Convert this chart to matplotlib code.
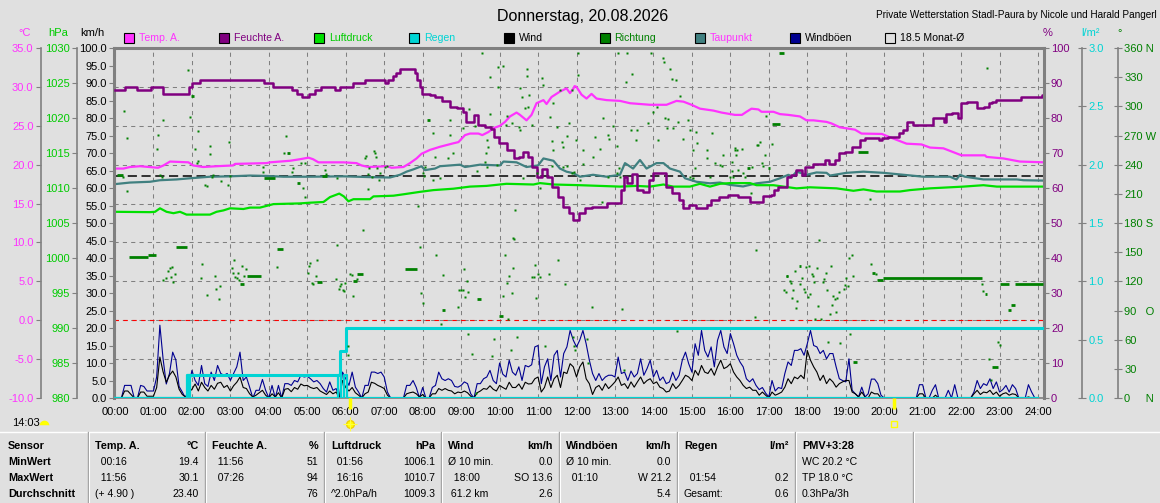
import numpy as np
import matplotlib
matplotlib.use("Agg")
import matplotlib.pyplot as plt
import matplotlib.ticker as mticker
import matplotlib.transforms as mtransforms
from matplotlib.lines import Line2D
from matplotlib.patches import Rectangle

plt.rcParams['font.family'] = ['Liberation Sans', 'DejaVu Sans']

# ---------------- data ----------------
title = "Donnerstag, 20.08.2026"
station = "Private Wetterstation Stadl-Paura by Nicole und Harald Pangerl"
hour_labels = [f"{h:02d}:00" for h in range(25)]
dir_labels = ['0     N', '30', '60', '90   O', '120', '150', '180 S', '210',
              '240', '270 W', '300', '330', '360 N']
month_avg = 18.5

temp_t = [0, 0.22, 0.39, 0.65, 1.12, 1.26, 1.43, 1.91, 2.03, 2.29, 2.64, 3.07, 3.12, 3.94, 4.03,
          4.55, 4.81, 5.03, 5.15, 5.29, 5.94, 6.28, 6.41, 6.59, 7.07, 7.19, 7.5, 7.67, 7.84, 7.97,
          8.19, 8.45, 8.8, 8.93, 9.1, 9.23, 9.45, 9.55, 9.71, 9.84, 10.01, 10.14, 10.27, 10.44,
          10.53, 10.7, 10.83, 10.96, 11.14, 11.22, 11.35, 11.57, 11.74, 11.83, 11.92, 11.95, 12.0,
          12.13, 12.26, 12.39, 12.52, 12.78, 13.13, 13.39, 13.91, 14.34, 14.6, 14.78, 14.99, 15.21,
          15.56, 15.77, 16.12, 16.3, 16.42, 16.55, 16.73, 16.81, 17.12, 17.29, 17.51, 17.81, 17.98,
          18.16, 18.5, 18.63, 18.85, 19.24, 19.41, 19.94, 20.11, 20.58, 20.97, 21.19, 21.54, 22.01,
          22.62, 22.66, 23.1, 23.53, 24.16]
temp_v = [19.5, 19.5, 19.7, 19.8, 19.6, 19.9, 20.4, 20.3, 19.9, 19.7, 19.8, 19.9, 20.1, 20.2, 20.3,
          20.5, 20.7, 20.9, 20.7, 20.3, 20.3, 20.2, 19.9, 19.7, 19.8, 19.6, 19.7, 20.2, 20.8, 21.4,
          21.9, 22.3, 22.75, 22.9, 23.8, 24.0, 24.0, 23.8, 24.2, 24.7, 25.0, 25.5, 26.2, 26.7,
          26.4, 25.7, 26.4, 27.9, 28.3, 27.8, 28.7, 29.4, 29.8, 29.2, 29.8, 30.1, 30.0,
          29.0, 28.5, 29.1, 28.5, 28.3, 28.2, 27.9, 27.7, 27.7, 28.2, 28.1, 27.7, 27.2,
          26.95, 26.7, 26.4, 26.4, 26.8, 27.2, 27.1, 26.8, 26.8, 26.5, 26.4, 26.2, 25.7,
          25.7, 25.5, 25.3, 24.8, 24.5, 24.0, 23.95, 23.6, 22.7, 22.6, 22.2, 22.1, 21.2,
          21.2, 21.0, 20.8, 20.4, 20.3]

hum_t = [0, 0.26, 0.56, 0.93, 1.24, 1.92, 2.0, 2.2, 3.87, 4.1, 4.6, 4.72, 4.85, 5.05, 5.2, 5.35,
         5.72, 5.85, 6.2, 6.5, 7.02, 7.1, 7.22, 7.3, 7.4, 7.8, 7.86, 7.92, 7.98, 8.19, 8.32, 8.5,
         8.71, 8.88, 9.05, 9.12, 9.34, 9.45, 9.62, 9.78, 9.86, 9.98, 10.1, 10.2, 10.38, 10.5,
         10.62, 10.75, 10.85, 10.98, 11.1, 11.22, 11.36, 11.52, 11.66, 11.8, 11.92, 12.06, 12.22,
         12.4, 12.8, 13.15, 13.24, 13.32, 13.44, 13.57, 13.74, 13.88, 14.0, 14.32, 14.48, 14.66,
         14.76, 14.92, 15.1, 15.4, 15.5, 15.7, 15.95, 16.2, 16.52, 16.84, 17.05, 17.14, 17.23,
         17.48, 17.57, 17.7, 17.87, 17.95, 18.15, 18.47, 18.57, 18.72, 18.82, 18.98, 19.15, 19.38,
         19.5, 19.87, 19.95, 20.1, 20.38, 20.48, 20.6, 20.75, 21.28, 21.55, 21.6, 21.75, 21.92,
         22.0, 22.15, 22.4, 22.6, 22.72, 22.8, 22.9, 23.55, 24.1, 24.16]
hum_v = [88, 89, 88, 89, 87, 89, 90, 91, 90, 89, 88, 87, 86, 87, 88, 89,
         88, 89, 90, 91, 90, 91, 92, 93, 94, 93, 91, 89, 87, 86.5, 86, 85,
         83.2, 82.8, 81.8, 79, 81, 78, 77.5, 77, 74.7, 72.8, 73, 70.9, 68.5, 69,
         70.4, 69, 66.1, 63.2, 65.4, 63.2, 60.4, 57.5, 54.7, 52.8, 51, 52.8, 54.3,
         54.7, 55.6, 59.4, 63.2, 61.3, 64, 59.4, 58.9, 62.3, 64.2, 60.4, 58.5, 56.6,
         54.3, 55.1, 54.3, 55.1, 56.6, 57.5, 57.9, 57.5, 56.1, 57.7, 58, 59.4, 60.3,
         63.2, 63.6, 65.1, 63.6, 66.1, 67, 68, 67, 68, 69.9, 70.4, 71.8, 73.7,
         74.2, 73.7, 74.2, 74.7, 75.6, 76.6, 79, 78, 79.9, 79, 81.1, 81.3, 79.9,
         84.2, 84.6, 82.8, 83.2, 84.2, 84.6, 85.1, 86.1, 86.6, 87]

pres_t = [0, 0.91, 1.04, 1.17, 1.34, 1.52, 1.69, 1.86, 2.47, 2.64, 2.82, 2.99, 3.34, 3.51, 3.77,
          4.12, 4.81, 5.07, 5.42, 5.59, 5.83, 5.95, 6.07, 6.2, 6.63, 6.72, 7.24, 7.5, 7.93, 8.28,
          8.8, 9.23, 9.66, 10.18, 10.88, 11.05, 11.4, 12.09, 13.13, 13.56, 13.91, 14.26, 14.51,
          14.95, 15.21, 15.47, 15.73, 15.99, 16.51, 16.68, 17.12, 17.38, 17.72, 18.07, 18.76,
          19.2, 19.46, 19.8, 20.41, 20.67, 21.19, 22.06, 22.58, 22.93, 24.16]
pres_v = [1006.6, 1006.55, 1006.6, 1007.1, 1006.6, 1006.4, 1006.6, 1006.2, 1006.2, 1006.6, 1006.8,
          1007.1, 1007.0, 1007.2, 1007.2, 1007.7, 1007.8, 1007.9, 1008.0, 1008.7, 1009.2, 1008.8,
          1008.1, 1008.4, 1008.4, 1008.8, 1008.9, 1009.1, 1009.45, 1009.7, 1009.9, 1010.2, 1010.3,
          1010.6, 1010.5, 1010.7, 1010.5, 1010.4, 1010.2, 1010.3, 1010.2, 1010.5, 1010.2, 1010.2,
          1010.6, 1010.2, 1010.6, 1010.7, 1010.7, 1010.4, 1010.4, 1010.2, 1009.95, 1010.1, 1009.95,
          1009.6, 1009.8, 1009.5, 1009.5, 1009.7, 1009.95, 1010.2, 1010.4, 1010.2, 1010.2]

dew_t = [0, 0.39, 0.91, 1.17, 1.6, 1.95, 2.47, 2.99, 3.51, 3.94, 4.38, 5.07, 5.94, 6.63, 7.15,
         7.41, 7.58, 7.76, 7.97, 8.06, 8.32, 8.45, 8.71, 8.97, 9.1, 9.49, 10.01, 10.1, 10.44,
         10.7, 11.0, 11.14, 11.4, 11.57, 11.74, 11.92, 12.09, 12.43, 12.78, 13.13, 13.26, 13.47,
         13.65, 13.82, 14.08, 14.26, 14.43, 14.69, 14.82, 15.12, 15.47, 15.73, 15.99, 16.33,
         16.68, 17.03, 17.29, 17.51, 17.6, 17.72, 17.98, 18.24, 18.5, 18.59, 19.02, 19.46, 19.98,
         20.5, 21.02, 21.71, 21.88, 21.97, 22.1, 22.58, 23.45, 23.62, 24.16]
dew_v = [17.5, 17.7, 17.8, 18.0, 18.1, 18.25, 18.45, 18.5, 18.6, 18.55, 18.45, 18.45, 18.5, 18.4,
         18.35, 18.7, 19.1, 19.4, 19.8, 19.3, 19.5, 19.8, 19.9, 20.0, 19.7, 20.0, 19.9, 20.4, 20.3,
         19.7, 19.9, 20.8, 20.5, 19.5, 19.1, 18.9, 18.45, 18.7, 18.45, 18.7, 20.2, 19.5,
         20.6, 19.5, 20.2, 20.2, 19.5, 19.1, 18.25, 17.8, 17.6, 17.7, 17.4, 17.2,
         17.6, 17.8, 18.25, 18.7, 18.45, 19.1, 18.7, 19.0, 18.95, 18.6, 18.95, 19.1, 18.95,
         18.7, 18.45, 18.45, 18.1, 18.7, 18.45, 18.1, 18.1, 18.0, 17.95]

# wind and gusts, one value every 5 minutes (one row = one hour)
gust_kmh = [
    0, 0, 0, 3.6, 3.6, 3.6, 0, 0, 3.6, 3.3, 2, 2,
    2, 6, 20.8, 11.2, 4, 7, 13.1, 10.8, 3.3, 1.7, 0, 3.1,
    7.9, 5, 3.6, 9.3, 4.1, 3.3, 7.4, 5, 9.3, 7, 6.5, 7,
    5, 7, 8.9, 13.1, 5, 6, 3.1, 0, 2.2, 2.2, 5.3, 2.2,
    0, 3.6, 0, 3.6, 0, 4.1, 4.1, 3.6, 5, 4.6, 6.5, 6,
    6.2, 5.5, 4.6, 5, 4.1, 2.7, 1.7, 4.6, 2.2, 2.7, 0, 7.4,
    5.5, 3.6, 7.4, 3.1, 1.7, 0, 3.6, 3.6, 7.4, 7.4, 7, 7.4,
    6, 1.7, 0, 0, 0, 0, 0, 3.6, 3.6, 5, 3, 0,
    3, 0, 0, 3, 3.6, 7.4, 5.5, 5, 5.5, 5, 3.3, 3.1,
    3.6, 4.6, 4.1, 1.2, 0, 4.1, 4.1, 5.5, 6, 7.9, 5, 4.1,
    10, 6.8, 6, 10.8, 7.4, 6.5, 8.9, 5, 9.3, 8.9, 9.5, 14.6,
    15, 4.1, 8.9, 11.2, 5, 12.2, 13.6, 6, 12.7, 14.6, 19.3, 16.5,
    14.6, 16.5, 19.3, 15.5, 10.8, 7, 5, 7, 5, 6, 6.5, 6.5,
    6, 11.7, 7, 7.4, 5, 7.7, 6, 7, 11.2, 6.5, 8.4, 10.8,
    6, 7.9, 5, 6, 4.1, 4.6, 7.4, 5, 6.5, 10.8, 13.1, 9.8,
    7.4, 15.5, 12.2, 19.3, 13.6, 11.7, 14.6, 8.9, 16.5, 19.3, 14.6, 12.7,
    18.4, 15.5, 12.2, 10.3, 8.9, 5.5, 4.6, 5.5, 3.6, 2.4, 3, 1.4,
    0.3, 5, 2, 3, 2.7, 7, 10.3, 9.3, 13.6, 13.6, 14.1, 12.2,
    15.5, 19.3, 15, 14.6, 12.7, 13.6, 11.2, 12.7, 12.7, 8.9, 5.5, 5,
    4.6, 11.2, 2.2, 1.2, 0.3, 3.1, 0.3, 1.2, 5.4, 5.4, 4.1, 0.8,
    0, 0, 0, 0, 0, 0, 0, 0, 0, 0, 0, 3.8,
    3.8, 0, 0, 2.2, 3.8, 0, 0, 0, 2.2, 0, 3.8, 0,
    0, 0, 0, 0, 1.7, 5, 2.7, 4.1, 3.6, 5.5, 2.7, 4.6,
    1.7, 2.4, 3.6, 1.7, 3.8, 2.7, 0, 0, 0, 3.8, 1.7, 0,
    0]
wind_kmh = [
    0, 0, 0, 2, 2, 1, 0, 0, 1.7, 1.7, 0.5, 0.5,
    0.5, 3, 11.7, 7.5, 4.5, 6.5, 7.7, 6, 2.5, 1, 0.3, 1.5,
    2.5, 4, 2, 4.5, 3, 2, 3.6, 2.5, 4.2, 4.5, 3, 3.6,
    2, 3.5, 4.5, 6, 3, 2.7, 1.2, 0.3, 0.8, 1.5, 2.2, 0.8,
    0, 1.2, 0.3, 1.5, 0, 2.5, 2.7, 1.8, 3, 2.5, 4, 3.5,
    3.6, 3, 2.7, 3, 2, 1.5, 1, 2, 1.2, 1.7, 0, 5,
    3, 2, 3, 1.5, 0.8, 0, 1.2, 1.7, 4.5, 4.2, 3.6, 3.2,
    2.7, 0.8, 0, 0, 0, 0, 0, 1.2, 1.5, 1.7, 1.2, 0.3,
    1, 0, 0, 1.2, 1.2, 2.7, 2.2, 2.7, 2.2, 2, 1.2, 1.7,
    1.5, 2, 1.5, 0.5, 0, 1.5, 2, 2.7, 2.5, 3.5, 2.5, 2,
    3.6, 3, 2.5, 4.5, 3, 3, 4, 2.5, 4.5, 4, 4.1, 5.5,
    6, 1.7, 3, 6, 3, 5.5, 6.5, 3, 7.4, 7, 9.8, 8.9,
    6, 8.9, 10.3, 5.5, 4.1, 1, 3, 3.6, 2.2, 4.1, 2.7, 3.6,
    4.6, 6, 3.6, 4.1, 2.7, 4.6, 3.1, 4.6, 6, 4.1, 5, 5.5,
    4.1, 4.6, 3.1, 2.7, 1.7, 2, 4.1, 2.7, 3.6, 5, 6.5, 6,
    5, 7.9, 6.5, 9.3, 7.4, 7, 8.4, 6.5, 8.9, 10.8, 8.4, 8.9,
    9.8, 7.4, 6, 5, 3.6, 2.7, 3.1, 2.2, 2.2, 0.8, 1.7, 0.8,
    0, 1.7, 0.8, 1.2, 1.7, 3.1, 5.5, 4.1, 6, 5.5, 6.5, 5.5,
    13.6, 10.8, 8.9, 7.4, 5, 6.5, 4.1, 5.5, 4.6, 3.1, 4.1, 4.6,
    5, 5, 1.7, 1.2, 0.3, 1.7, 0.3, 0, 1.7, 1.2, 1.2, 0,
    0, 0, 0, 0, 0, 0, 0, 0, 0, 0, 0, 1.2,
    1.2, 0, 0, 0, 0.8, 0, 0, 0, 0, 0, 0, 0,
    0, 0, 0, 0, 1.2, 2.2, 1, 1.7, 1.5, 2.2, 1, 1.7,
    0.5, 1.2, 1.5, 0.8, 1.2, 1, 0, 0, 0, 0.3, 0, 0,
    0]

rain_event_t = [1.9, 5.85, 6.0]
rain_event_mm = [0.2, 0.2, 0.2]

dir_points = [
    (0.234, 295.5), (0.304, 267.7), (0.216, 227.6), (0.32, 213.2),
    (1.084, 256), (1.11, 270.5), (1.17, 229.4), (1.214, 227.6), (1.24, 286), (1.256, 121.4),
    (1.318, 123.7), (1.37, 131), (1.43, 134), (1.448, 124.8), (1.482, 135), (1.508, 119.6), (1.56, 127.9),
    (1.906, 337.4), (1.95, 289.3), (2.08, 256.4), (2.124, 241.4), (2.15, 275), (2.166, 244),
    (2.228, 123.7), (2.262, 137.8), (2.34, 219), (2.384, 106.3), (2.384, 218.3), (2.47, 259.2),
    (2.47, 251), (2.53, 227.6), (2.556, 229.4), (2.6, 125.8), (2.626, 112.4), (2.704, 102.1),
    (2.73, 115.5), (2.756, 223.5), (2.93, 219), (2.964, 263.3), (2.99, 228.3),
    (3.042, 134), (3.068, 128.9), (3.094, 142.3), (3.12, 124.8), (3.172, 123.7), (3.198, 128.9),
    (3.224, 121.7), (3.302, 136), (3.354, 125.8), (3.406, 133), (3.84, 232), (3.856, 238),
    (4.2, 135), (4.394, 252), (4.438, 269.5), (4.594, 232.8), (4.636, 236.3), (4.845, 242),
    (4.88, 215.7), (4.94, 207), (4.94, 242),
    (5.01, 128.9), (5.044, 136), (5.07, 139.2), (5.114, 118.6), (5.14, 117.6), (5.218, 125.8),
    (5.252, 142.3), (5.46, 234.5), (5.486, 230), (5.746, 122.7), (5.764, 157.7), (5.764, 226),
    (5.824, 112.4), (5.85, 115.5), (5.876, 117.6), (5.928, 111.4), (5.954, 110.4), (5.988, 118.6),
    (6.05, 44.2), (6.066, 53.8), (6.11, 127.9), (6.162, 126.8), (6.188, 105.2), (6.285, 122.7),
    (6.44, 173), (6.5, 246.5), (6.526, 249), (6.57, 215.3), (6.58, 230), (6.612, 236.3),
    (6.674, 227.6), (6.734, 254.4), (6.76, 251.7), (6.778, 248.2), (6.82, 236.3), (6.872, 224.2),
    (6.89, 231), (7.03, 238), (7.064, 238.6), (7.886, 197.8), (7.93, 155.6), (7.95, 108.3),
    (8.0, 98), (8.016, 231.7), (8.04, 228), (8.06, 238), (8.26, 272.9), (8.276, 224.2),
    (8.32, 248.2), (8.346, 147.4), (8.45, 226), (8.47, 76.4), (8.52, 126.8), (8.667, 246.5),
    (8.71, 286), (8.71, 270.5), (8.8, 252.3), (8.918, 93.9), (8.95, 111.4),
    (9.0, 111.4), (9.05, 111.4), (9.056, 277.4), (9.074, 133), (9.093, 104.2), (9.144, 120.7),
    (9.178, 109.3), (9.186, 65.8), (9.21, 297), (9.274, 44.9), (9.36, 279.8), (9.386, 5.5),
    (9.405, 233.8), (9.535, 355.2), (9.62, 243.1), (9.646, 251.7), (9.665, 265.4), (9.665, 238),
    (9.706, 257.9), (9.75, 330.5), (9.75, 292.1), (9.794, 43.2), (9.854, 60.7), (9.925, 239.7),
    (9.95, 340.8), (9.966, 320.2),
    (10.088, 105.2), (10.1, 341.5), (10.14, 147.4), (10.166, 280.8), (10.185, 289.9), (10.19, 118.6),
    (10.21, 81.6), (10.244, 125.8), (10.289, 49.4), (10.315, 282.6), (10.322, 108.3), (10.348, 134),
    (10.356, 164.3), (10.374, 163.9), (10.4, 193.4), (10.445, 63.1), (10.51, 279), (10.53, 318.6),
    (10.53, 275.7), (10.575, 309.3), (10.617, 226), (10.66, 298), (10.705, 338.1), (10.705, 331.2),
    (10.746, 299.6), (10.77, 311.7), (10.834, 280.8), (10.84, 124.5), (10.89, 124.5), (10.913, 137.1),
    (10.94, 103.2), (10.964, 231.1),
    (11.0, 127.9), (11.05, 124.5), (11.05, 215.7), (11.095, 328.8), (11.12, 322), (11.18, 53.8),
    (11.276, 127.9), (11.31, 288.7), (11.355, 238.6), (11.355, 264.7), (11.38, 303.1), (11.4, 255.1),
    (11.485, 278.4), (11.518, 142.3), (11.57, 316.8), (11.615, 263.7), (11.64, 257.9), (11.658, 238),
    (11.693, 117.6), (11.745, 269.5), (11.745, 238.6), (11.81, 282.5), (11.874, 316.8), (11.874, 231.1),
    (11.92, 63.1), (11.94, 53.5), (11.94, 232.8), (11.96, 49.4), (11.986, 265.4),
    (12.046, 355.2), (12.046, 332.2), (12.09, 224.2), (12.16, 255.1), (12.176, 240.7), (12.265, 60.7),
    (12.306, 35.7), (12.395, 93.9), (12.436, 248.2), (12.48, 268.8), (12.61, 255.8), (12.655, 202),
    (12.696, 287.7), (12.826, 227.6), (12.826, 270.5), (12.85, 266.1), (12.956, 279.8),
    (13.044, 259.2), (13.044, 231.1), (13.086, 355.2), (13.113, 236.3), (13.13, 227.6), (13.175, 91.8),
    (13.235, 28.8), (13.28, 325.3), (13.305, 355.2), (13.41, 275.7), (13.43, 332.8), (13.546, 265.4),
    (13.565, 275.7), (13.866, 282.5), (13.93, 355.2),
    (14.0, 294.5), (14.085, 299.6), (14.126, 265.4), (14.24, 349.4), (14.28, 346), (14.3, 287.7),
    (14.345, 277.4), (14.387, 286.6), (14.43, 338), (14.475, 328), (14.517, 277.4), (14.587, 327),
    (14.6, 68.9), (14.646, 284.2), (14.69, 310.6), (14.776, 266.1), (14.906, 286), (14.95, 227.6),
    (14.95, 275.7),
    (15.036, 255.1), (15.036, 226), (15.08, 236.3), (15.106, 273.9), (15.125, 262), (15.385, 255.1),
    (15.385, 246.5), (15.47, 227), (15.515, 272.3), (15.6, 241.4), (15.73, 239.7), (15.775, 239),
    (15.816, 250), (15.99, 227.6),
    (16.035, 243.1), (16.035, 233.8), (16.077, 227.6), (16.12, 256.9), (16.12, 255.1), (16.147, 250),
    (16.18, 255.5), (16.207, 234.5), (16.294, 255.8), (16.337, 231), (16.38, 227.6), (16.53, 211.2),
    (16.555, 237.3), (16.633, 83.6), (16.66, 152.5), (16.685, 260.2), (16.726, 260), (16.77, 263.6),
    (16.815, 241.4), (16.857, 238.9), (16.9, 250), (16.93, 290),
    (17.074, 261), (17.387, 111.4), (17.44, 109.3), (17.473, 125.8), (17.543, 120.7), (17.569, 118.6),
    (17.595, 103.2), (17.62, 111.4), (17.673, 131), (17.699, 92.9), (17.725, 99.8), (17.803, 117.6),
    (17.863, 123.7), (17.907, 112.4), (17.933, 109.3), (17.967, 135),
    (18.011, 104.2), (18.037, 136), (18.063, 107.3), (18.115, 127.9), (18.149, 125.8), (18.167, 119.6),
    (18.193, 81.6), (18.245, 134), (18.271, 94.9), (18.297, 162.8), (18.349, 81.6), (18.401, 119.6),
    (18.435, 122.7), (18.479, 128.9), (18.505, 111.4), (18.53, 57.9), (18.583, 86.6), (18.609, 136),
    (18.635, 96), (18.661, 105.2), (18.713, 102.1), (18.739, 88.8), (18.765, 103.2), (18.817, 109.3),
    (18.85, 56.6), (18.947, 112.4), (18.973, 116.5), (18.999, 123.7),
    (19.051, 115.5), (19.077, 144.3), (19.11, 66.1), (19.155, 147.4), (19.181, 125.8), (19.63, 204.7),
    (19.649, 138.1), (19.787, 127.5),
    (22.535, 117.6), (22.561, 110.4), (22.68, 339.7), (22.73, 40.1), (22.77, 18.5), (22.966, 57.9),
    (23.0, 54.8)]

dir_runs = [
    (0.044, 0.216, 229.4), (0.36, 0.87, 145), (0.87, 1.06, 147.4), (1.59, 1.86, 155.6),
    (1.976, 2.062, 311), (3.25, 3.354, 117.6), (3.43, 3.79, 125.8), (3.874, 4.16, 226),
    (4.2, 4.376, 153.6), (4.464, 4.55, 251.7), (4.724, 4.81, 221.5), (5.244, 5.374, 119.6),
    (5.374, 5.504, 228.3), (6.196, 6.285, 120.7), (6.3, 6.44, 127.9), (7.54, 7.84, 133),
    (8.1, 8.19, 286), (8.5, 8.59, 90.8), (9.405, 9.524, 102.1), (9.99, 10.08, 84.6),
    (16.425, 16.51, 236.3), (16.97, 17.03, 237), (17.07, 17.29, 281.8), (17.27, 17.4, 355.2),
    (17.45, 17.5, 125.8), (17.777, 17.837, 136), (19.196, 19.3, 37.3), (19.31, 19.57, 253.3),
    (19.675, 19.761, 128.9), (19.805, 19.961, 121.7), (19.976, 22.535, 123.7),
    (22.613, 22.68, 107.3), (22.795, 22.966, 32.2), (23.02, 23.237, 117.6),
    (23.219, 23.289, 90.8), (23.305, 23.393, 96), (23.4, 24.14, 117.6)]

sunrise_h = 6.1
sunset_h = 20.26
day_length = "14:03"

legend_labels = ['Temp. A.', 'Feuchte A.', 'Luftdruck', 'Regen', 'Wind', 'Richtung',
                 'Taupunkt', 'Windböen', f'{month_avg} Monat-Ø']

table_head = ['Sensor', 'Temp. A.', 'Feuchte A.', 'Luftdruck', 'Wind', 'Windböen', 'Regen', 'PMV+3:28']
table_unit = ['', '°C', '%', 'hPa', 'km/h', 'km/h', 'l/m²', '']
row_names = ['MinWert', 'MaxWert', 'Durchschnitt']
cell_left = [
    ['  00:16', '  11:56', '(+ 4.90 )'],
    ['  11:56', '  07:26', ''],
    ['  01:56', '  16:16', '^2.0hPa/h'],
    ['Ø 10 min.', '  18:00', ' 61.2 km'],
    ['Ø 10 min.', '  01:10', ''],
    ['', '  01:54', 'Gesamt:'],
    ['WC 20.2 °C', 'TP 18.0 °C', '0.3hPa/3h']]
cell_right = [
    ['19.4', '30.1', '23.40'],
    ['51', '94', '76'],
    ['1006.1', '1010.7', '1009.3'],
    ['0.0', 'SO 13.6', '2.6'],
    ['0.0', 'W 21.2', '5.4'],
    ['', '0.2', '0.6'],
    ['', '', '']]

# ---------------- style ----------------
BG = '#E0E0E0'
GRIDC = '#808080'
MAG = '#FF33FF'
PURPLE = '#800080'
GREEN = '#00E000'
GREEN_T = '#00CC00'
CYAN = '#00D4D4'
DKGREEN = '#008000'
TEAL = '#408080'
NAVY = '#000090'

W, H = 1160, 503
fig = plt.figure(figsize=(W / 100, H / 100), dpi=100, facecolor=BG)


def fx(px):
    return px / W


def fy(py):
    return 1 - py / H


L, T, R, B = 114, 48, 1044, 398
X0, HOUR = 115, 38.46
pos = [fx(L), fy(B), (R - L) / W, (B - T) / H]
XMIN, XMAX = (L - X0) / HOUR, (R - X0) / HOUR
FS = 8

# temperature axis = base axes (grid + background)
ax_t = fig.add_axes(pos)
ax_t.set_facecolor(BG)
ax_t.set_xlim(XMIN, XMAX)
ax_t.set_ylim(-10, 35)
ax_t.set_xticks(range(25))
ax_t.set_xticklabels(hour_labels)
ax_t.set_yticks(np.arange(-10, 36, 5))
ax_t.yaxis.set_major_formatter(mticker.FormatStrFormatter('%.1f'))
ax_t.grid(True, color=GRIDC, linestyle=(0, (4, 4)), linewidth=0.75)
ax_t.set_axisbelow(True)
for s in ['top', 'right', 'bottom']:
    ax_t.spines[s].set_visible(False)
ax_t.spines['left'].set_position(('axes', (40.5 - L) / (R - L)))
ax_t.spines['left'].set_color(GRIDC)
ax_t.spines['left'].set_linewidth(1.2)
ax_t.tick_params(axis='y', direction='out', length=3.5, width=0.8, color=GRIDC,
                 labelcolor=MAG, labelsize=FS, pad=1.5)
ax_t.tick_params(axis='x', length=0, labelsize=FS, pad=6.5)

ax_t.axhline(0, color='#FF0000', linestyle=(0, (4, 4)), linewidth=0.8)
ax_t.axhline(month_avg, color='black', linestyle=(0, (6, 3)), linewidth=1.1)
ax_t.plot(temp_t, temp_v, color=MAG, lw=1.6)
ax_t.plot(dew_t, dew_v, color=TEAL, lw=1.6)


def left_axis(ax, xpx, lim, ticks, fmt, color, spine_lw=1.2):
    ax.set_ylim(*lim)
    ax.yaxis.tick_left()
    ax.set_yticks(ticks)
    ax.yaxis.set_major_formatter(mticker.FormatStrFormatter(fmt))
    for s in ['top', 'right', 'bottom']:
        ax.spines[s].set_visible(False)
    ax.spines['left'].set_position(('axes', (xpx - L) / (R - L)))
    ax.spines['left'].set_color(GRIDC)
    ax.spines['left'].set_linewidth(spine_lw)
    ax.tick_params(axis='y', direction='out', length=3.5, width=0.8, color=GRIDC,
                   labelcolor=color, labelsize=FS, pad=1.5)


def right_axis(ax, xpx, lim, ticks, color, direction='out', length=3.5, spine_lw=1.2):
    ax.set_ylim(*lim)
    ax.yaxis.tick_right()
    ax.set_yticks(ticks)
    for s in ['top', 'left', 'bottom']:
        ax.spines[s].set_visible(False)
    ax.spines['right'].set_position(('axes', (xpx - L) / (R - L)))
    ax.spines['right'].set_color(GRIDC)
    ax.spines['right'].set_linewidth(spine_lw)
    ax.tick_params(axis='y', direction=direction, length=length, width=0.8, color=GRIDC,
                   labelcolor=color, labelsize=FS, pad=1.5)


# pressure
ax_p = ax_t.twinx()
left_axis(ax_p, 77, (980, 1030), np.arange(980, 1031, 5), '%d', GREEN_T)
ax_p.plot(pres_t, pres_v, color=GREEN, lw=1.6)

# wind / gusts (km/h)
ax_k = ax_t.twinx()
left_axis(ax_k, L, (0, 100), np.arange(0, 101, 5), '%.1f', 'black', spine_lw=2.2)
ax_k.spines['top'].set_visible(True)
ax_k.spines['top'].set_color(GRIDC)
ax_k.spines['top'].set_linewidth(2.2)
ax_k.spines['bottom'].set_visible(True)
ax_k.spines['bottom'].set_color(GRIDC)
ax_k.spines['bottom'].set_linewidth(1.2)
grid_h = np.arange(0, 1441, 5) / 60.0
ax_k.plot(grid_h, gust_kmh, color=NAVY, lw=0.8)
ax_k.plot(grid_h, wind_kmh, color='black', lw=0.8)

# humidity (%)
ax_h = ax_t.twinx()
right_axis(ax_h, R, (0, 100), np.arange(0, 101, 10), PURPLE, spine_lw=2.2)
ax_h.yaxis.set_major_formatter(mticker.FormatStrFormatter('%d'))
ax_h.step(hum_t, hum_v, where='post', color=PURPLE, lw=1.8)

# rain (l/m²)
ax_r = ax_t.twinx()
right_axis(ax_r, 1082, (0, 3), np.arange(0, 3.01, 0.5), CYAN, direction='inout', length=6)
ax_r.yaxis.set_major_formatter(mticker.FormatStrFormatter('%.1f'))
rain_cum = np.cumsum(rain_event_mm)
ax_r.step([0] + rain_event_t + [XMAX], [0] + list(rain_cum) + [rain_cum[-1]],
          where='post', color=CYAN, lw=2.2)
rain_rate = np.zeros(len(grid_h))
for t, mm in zip(rain_event_t, rain_event_mm):
    rain_rate[int(np.argmin(np.abs(grid_h - t)))] += mm
ax_r.plot(grid_h, rain_rate, drawstyle='steps-mid', color=CYAN, lw=1.6)

# wind direction (°)
ax_d = ax_t.twinx()
right_axis(ax_d, 1118, (0, 360), np.arange(0, 361, 30), DKGREEN, direction='inout', length=6)
ax_d.set_yticklabels(dir_labels)
dir_t = [p[0] for p in dir_points]
dir_v = [p[1] for p in dir_points]
ax_d.plot(dir_t, dir_v, linestyle='none', marker='s', markersize=2.0,
          markerfacecolor=DKGREEN, markeredgecolor='none')
ax_d.hlines([r[2] for r in dir_runs], [r[0] for r in dir_runs], [r[1] for r in dir_runs],
            color=DKGREEN, lw=2.0)

for ax in (ax_t, ax_p, ax_k, ax_h, ax_r, ax_d):
    ax.set_xlim(XMIN, XMAX)

# sunrise / sunset markers
trans = mtransforms.blended_transform_factory(ax_d.transData, fig.transFigure)
for h in (sunrise_h, sunset_h):
    ax_d.plot([h, h], [fy(398), fy(409)], transform=trans, color='#FFFF00', lw=2.5,
              clip_on=False, solid_capstyle='butt')
ax_d.plot([sunrise_h], [fy(424)], transform=trans, marker='o', markersize=5.5,
          markerfacecolor='#FFFF00', markeredgecolor='#F0D000', clip_on=False)
ax_d.plot([sunrise_h], [fy(424)], transform=trans, marker='+', markersize=10,
          markeredgecolor='#FFFF40', markeredgewidth=0.8, clip_on=False)
ax_d.plot([sunset_h], [fy(424)], transform=trans, marker='s', markersize=4,
          markerfacecolor='none', markeredgecolor='#FFFF00', markeredgewidth=1, clip_on=False)

fig.text(fx(12), fy(423), day_length, fontsize=FS, ha='left', va='center')
fig.add_artist(Line2D([fx(44)], [fy(425)], marker='o', markersize=7, fillstyle='top',
                      markerfacecolor='#FFFF00', markerfacecoloralt=BG,
                      markeredgecolor='none', transform=fig.transFigure))

# ---------------- texts ----------------
fig.text(fx(583), fy(17), title, fontsize=11.5, ha='center', va='center')
fig.text(fx(1157), fy(15), station, fontsize=7.2, ha='right', va='center')

for txt, xp, col in [('°C', 25, MAG), ('hPa', 58, GREEN_T), ('km/h', 92, 'black'),
                     ('%', 1048, PURPLE), ('l/m²', 1090, CYAN), ('°', 1120, DKGREEN)]:
    fig.text(fx(xp), fy(33), txt, fontsize=FS, ha='center', va='center', color=col)

legend_box = [MAG, PURPLE, GREEN, CYAN, 'black', DKGREEN, TEAL, NAVY, BG]
legend_txt = [MAG, PURPLE, GREEN_T, CYAN, 'black', DKGREEN, MAG, 'black', 'black']
for i, lab in enumerate(legend_labels):
    x0 = 124 + 95.1 * i
    fig.add_artist(Rectangle((fx(x0), fy(43)), 10 / W, 10 / H, facecolor=legend_box[i],
                             edgecolor='black', linewidth=0.8, transform=fig.transFigure))
    fig.text(fx(x0 + 15), fy(38), lab, fontsize=7.6, ha='left', va='center',
             color=legend_txt[i])

# ---------------- table ----------------
fig.add_artist(Line2D([0, 1], [fy(432), fy(432)], color='white', lw=1.0,
                      transform=fig.transFigure))
seps = [88, 205, 324, 441, 559, 677, 795, 913]
for xs in seps:
    fig.add_artist(Line2D([fx(xs), fx(xs)], [fy(432), 0], color='#A0A0A0', lw=1.0,
                          transform=fig.transFigure))
    fig.add_artist(Line2D([fx(xs + 1), fx(xs + 1)], [fy(432), 0], color='white', lw=0.8,
                          transform=fig.transFigure))

rows_y = [446, 462, 478, 494]
fig.text(fx(8), fy(rows_y[0]), table_head[0], fontsize=7.8, fontweight='bold', va='center')
for r, name in enumerate(row_names):
    fig.text(fx(8), fy(rows_y[r + 1]), name, fontsize=7.8, fontweight='bold', va='center')
for c in range(1, 8):
    xl = seps[c - 1] + 7
    xr = seps[c] - 6
    fig.text(fx(xl), fy(rows_y[0]), table_head[c], fontsize=7.8, fontweight='bold', va='center')
    if table_unit[c]:
        fig.text(fx(xr), fy(rows_y[0]), table_unit[c], fontsize=7.8, fontweight='bold',
                 va='center', ha='right')
    for r in range(3):
        if cell_left[c - 1][r]:
            fig.text(fx(xl), fy(rows_y[r + 1]), cell_left[c - 1][r], fontsize=7.6, va='center')
        if cell_right[c - 1][r]:
            fig.text(fx(xr), fy(rows_y[r + 1]), cell_right[c - 1][r], fontsize=7.6,
                     va='center', ha='right')

fig.savefig('out.png', dpi=100, facecolor=BG)
